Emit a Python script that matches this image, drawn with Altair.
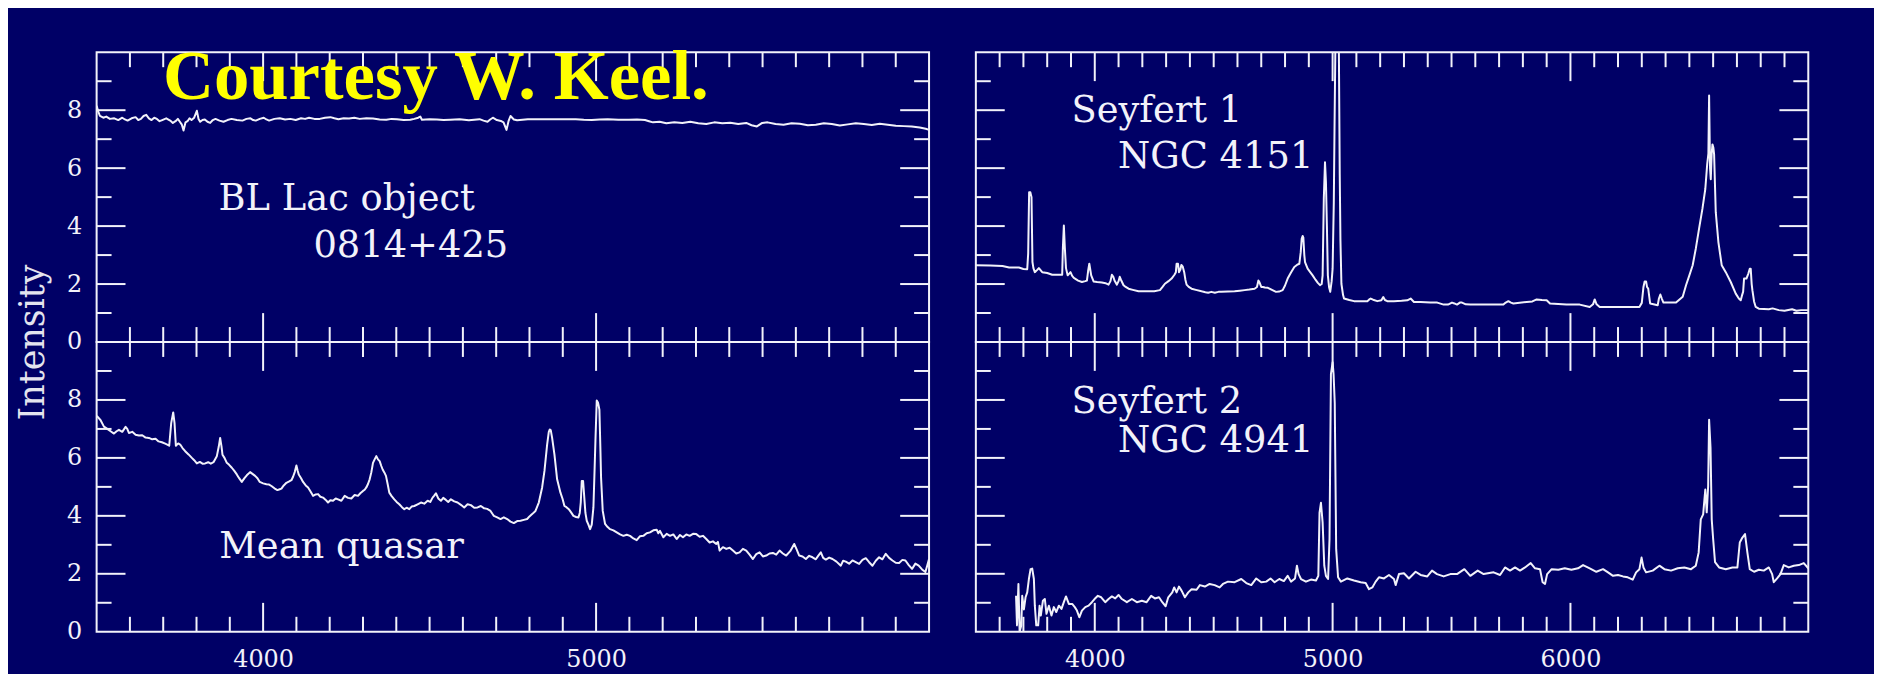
import altair as alt
import pandas as pd

BG = "#000066"
FG = "#f2f2fa"
TITLE_FG = "#e4e4ee"
YELLOW = "#ffff00"
FONT = "DejaVu Serif"

# ---------------- spectra: (wavelength [A], intensity) ----------------
BL_LAC = [
    (3500, 8.15), (3505, 7.95), (3510, 7.80), (3520, 7.74), (3529, 7.78), (3540, 7.70), (3553, 7.72),
    (3565, 7.66), (3577, 7.74), (3585, 7.68), (3593, 7.64), (3605, 7.72), (3617, 7.76), (3625, 7.66),
    (3633, 7.70), (3641, 7.80), (3649, 7.84), (3657, 7.72), (3665, 7.66), (3673, 7.74), (3681, 7.70),
    (3689, 7.62), (3697, 7.66), (3709, 7.72), (3721, 7.64), (3729, 7.56), (3737, 7.62), (3744, 7.70),
    (3750, 7.60), (3756, 7.50), (3761, 7.30), (3767, 7.58), (3773, 7.62), (3779, 7.72), (3785, 7.66),
    (3793, 7.74), (3801, 7.98), (3806, 7.70), (3811, 7.60), (3818, 7.66), (3825, 7.68), (3833, 7.60),
    (3841, 7.56), (3849, 7.66), (3857, 7.70), (3869, 7.64), (3881, 7.60), (3893, 7.66), (3905, 7.70),
    (3921, 7.66), (3938, 7.64), (3950, 7.70), (3962, 7.72), (3970, 7.66), (3978, 7.64), (3990, 7.70),
    (4002, 7.74), (4010, 7.68), (4018, 7.64), (4034, 7.70), (4050, 7.72), (4066, 7.68), (4082, 7.70),
    (4098, 7.66), (4114, 7.72), (4126, 7.70), (4138, 7.74), (4154, 7.70), (4170, 7.70), (4186, 7.74),
    (4202, 7.76), (4214, 7.72), (4226, 7.69), (4242, 7.72), (4258, 7.71), (4274, 7.74), (4290, 7.70),
    (4310, 7.72), (4330, 7.71), (4350, 7.68), (4370, 7.67), (4386, 7.70), (4402, 7.69), (4422, 7.66),
    (4442, 7.67), (4454, 7.70), (4466, 7.74), (4472, 7.78), (4477, 7.67), (4500, 7.69), (4522, 7.68),
    (4542, 7.66), (4562, 7.67), (4590, 7.69), (4618, 7.65), (4634, 7.67), (4650, 7.69), (4662, 7.64),
    (4674, 7.60), (4682, 7.68), (4690, 7.74), (4702, 7.66), (4714, 7.63), (4722, 7.58), (4731, 7.32),
    (4737, 7.62), (4743, 7.80), (4753, 7.68), (4763, 7.65), (4779, 7.67), (4795, 7.69), (4827, 7.69),
    (4859, 7.69), (4899, 7.69), (4939, 7.69), (4963, 7.67), (4987, 7.66), (5011, 7.68), (5035, 7.69),
    (5067, 7.67), (5099, 7.67), (5123, 7.68), (5147, 7.66), (5159, 7.62), (5171, 7.58), (5191, 7.60),
    (5211, 7.55), (5235, 7.58), (5259, 7.56), (5283, 7.60), (5307, 7.55), (5331, 7.52), (5355, 7.58),
    (5379, 7.55), (5403, 7.57), (5427, 7.52), (5451, 7.56), (5467, 7.48), (5483, 7.44), (5499, 7.56),
    (5515, 7.58), (5539, 7.52), (5563, 7.50), (5587, 7.55), (5612, 7.53), (5636, 7.48), (5660, 7.50),
    (5684, 7.55), (5708, 7.52), (5732, 7.47), (5756, 7.51), (5780, 7.55), (5804, 7.52), (5828, 7.49),
    (5852, 7.53), (5876, 7.50), (5900, 7.46), (5924, 7.45), (5948, 7.44), (5972, 7.40), (5990, 7.36),
    (6000, 7.32),
]

QUASAR = [
    (3500, 7.45), (3502, 7.43), (3512, 7.30), (3522, 7.08), (3532, 7.00), (3542, 6.92), (3552, 6.84),
    (3560, 6.92), (3567, 6.97), (3577, 6.90), (3587, 7.07), (3592, 7.00), (3597, 6.86), (3607, 6.90),
    (3617, 6.80), (3627, 6.77), (3637, 6.78), (3647, 6.70), (3657, 6.69), (3667, 6.64), (3677, 6.66),
    (3686, 6.57), (3696, 6.54), (3706, 6.49), (3712, 6.46), (3718, 6.42), (3724, 7.20), (3730, 7.57),
    (3734, 7.20), (3738, 6.42), (3745, 6.50), (3751, 6.46), (3758, 6.34), (3766, 6.23), (3776, 6.12),
    (3786, 6.00), (3793, 5.92), (3801, 5.81), (3810, 5.86), (3818, 5.80), (3826, 5.81), (3835, 5.85),
    (3843, 5.80), (3851, 5.85), (3861, 6.06), (3867, 6.40), (3871, 6.69), (3875, 6.40), (3878, 6.11),
    (3884, 6.00), (3891, 5.83), (3898, 5.76), (3906, 5.66), (3913, 5.56), (3921, 5.43), (3928, 5.30),
    (3936, 5.17), (3944, 5.30), (3951, 5.40), (3961, 5.51), (3968, 5.45), (3976, 5.38), (3983, 5.30),
    (3990, 5.17), (4000, 5.12), (4010, 5.09), (4018, 5.08), (4025, 5.03), (4034, 4.95), (4043, 4.89),
    (4050, 4.92), (4055, 4.94), (4062, 5.05), (4070, 5.14), (4077, 5.18), (4085, 5.23), (4090, 5.35),
    (4095, 5.51), (4100, 5.74), (4104, 5.55), (4107, 5.43), (4114, 5.30), (4120, 5.17), (4128, 5.05),
    (4135, 4.98), (4142, 4.85), (4150, 4.69), (4158, 4.74), (4165, 4.75), (4172, 4.66), (4180, 4.63),
    (4188, 4.55), (4195, 4.46), (4202, 4.54), (4210, 4.52), (4218, 4.60), (4225, 4.57), (4235, 4.52),
    (4245, 4.69), (4255, 4.62), (4265, 4.60), (4275, 4.72), (4285, 4.69), (4292, 4.78), (4300, 4.86),
    (4305, 4.90), (4310, 4.98), (4315, 5.10), (4320, 5.26), (4325, 5.50), (4330, 5.83), (4335, 5.95),
    (4340, 6.06), (4345, 5.95), (4350, 5.89), (4355, 5.72), (4359, 5.60), (4364, 5.50), (4369, 5.38),
    (4374, 5.10), (4379, 4.80), (4386, 4.68), (4394, 4.57), (4401, 4.48), (4409, 4.40), (4417, 4.30),
    (4424, 4.23), (4431, 4.28), (4439, 4.23), (4446, 4.32), (4454, 4.34), (4464, 4.40), (4474, 4.46),
    (4484, 4.42), (4494, 4.52), (4502, 4.48), (4509, 4.63), (4514, 4.70), (4519, 4.78), (4526, 4.60),
    (4534, 4.52), (4541, 4.62), (4549, 4.55), (4556, 4.48), (4564, 4.57), (4574, 4.50), (4584, 4.46),
    (4594, 4.38), (4604, 4.29), (4614, 4.40), (4624, 4.37), (4634, 4.28), (4644, 4.29), (4654, 4.34),
    (4664, 4.26), (4673, 4.24), (4683, 4.17), (4688, 4.08), (4693, 4.00), (4703, 3.95), (4713, 3.89),
    (4723, 3.95), (4733, 3.89), (4743, 3.80), (4753, 3.75), (4763, 3.82), (4773, 3.83), (4783, 3.86),
    (4793, 3.89), (4800, 3.98), (4808, 4.06), (4818, 4.17), (4828, 4.46), (4838, 4.98), (4845, 5.55),
    (4853, 6.46), (4858, 6.90), (4861, 6.98), (4864, 6.95), (4868, 6.69), (4875, 6.11), (4883, 5.26),
    (4893, 4.80), (4899, 4.60), (4905, 4.34), (4911, 4.30), (4918, 4.23), (4925, 4.12), (4932, 4.00),
    (4940, 3.96), (4947, 3.94), (4951, 4.10), (4954, 4.46), (4957, 5.20), (4961, 5.20), (4965, 4.57),
    (4968, 4.10), (4972, 3.83), (4977, 3.70), (4982, 3.54), (4987, 3.70), (4992, 4.29), (4995, 5.40),
    (4998, 6.57), (5002, 7.98), (5006, 7.90), (5010, 7.66), (5013, 6.30), (5015, 5.31), (5020, 4.17),
    (5027, 3.72), (5034, 3.62), (5042, 3.54), (5052, 3.50), (5062, 3.43), (5072, 3.36), (5082, 3.31),
    (5092, 3.35), (5102, 3.31), (5112, 3.22), (5122, 3.16), (5132, 3.30), (5142, 3.31), (5152, 3.40),
    (5162, 3.43), (5172, 3.50), (5182, 3.52), (5187, 3.40), (5192, 3.48), (5202, 3.26), (5212, 3.38),
    (5222, 3.31), (5232, 3.36), (5242, 3.20), (5252, 3.34), (5261, 3.26), (5271, 3.36), (5281, 3.31),
    (5291, 3.38), (5301, 3.37), (5311, 3.28), (5321, 3.31), (5331, 3.20), (5341, 3.08), (5351, 3.12),
    (5361, 3.03), (5366, 3.10), (5371, 2.80), (5381, 2.92), (5391, 2.86), (5401, 2.90), (5411, 2.80),
    (5421, 2.70), (5431, 2.74), (5441, 2.86), (5451, 2.80), (5461, 2.66), (5471, 2.51), (5481, 2.68),
    (5491, 2.74), (5501, 2.60), (5511, 2.63), (5521, 2.70), (5531, 2.72), (5541, 2.66), (5551, 2.80),
    (5561, 2.70), (5571, 2.63), (5583, 2.78), (5595, 3.03), (5602, 2.85), (5610, 2.63), (5620, 2.60),
    (5630, 2.51), (5640, 2.62), (5650, 2.57), (5660, 2.50), (5667, 2.62), (5675, 2.74), (5682, 2.55),
    (5690, 2.49), (5700, 2.56), (5710, 2.51), (5722, 2.42), (5735, 2.28), (5742, 2.45), (5750, 2.42),
    (5760, 2.35), (5770, 2.46), (5780, 2.40), (5790, 2.34), (5800, 2.48), (5810, 2.54), (5820, 2.40),
    (5830, 2.28), (5840, 2.45), (5850, 2.57), (5860, 2.50), (5870, 2.69), (5880, 2.55), (5890, 2.46),
    (5900, 2.38), (5910, 2.37), (5920, 2.48), (5929, 2.46), (5939, 2.30), (5949, 2.17), (5959, 2.35),
    (5969, 2.28), (5979, 2.15), (5989, 2.06), (5995, 2.30), (6000, 2.51),
]

SEYFERT1 = [
    (3500, 2.65), (3560, 2.64), (3612, 2.62), (3640, 2.57), (3681, 2.57), (3700, 2.52), (3716, 2.51),
    (3720, 3.05), (3724, 5.17), (3729, 5.17), (3734, 5.00), (3738, 2.76), (3742, 2.55), (3748, 2.41),
    (3757, 2.48), (3765, 2.55), (3772, 2.48), (3779, 2.41), (3800, 2.38), (3821, 2.32), (3845, 2.32),
    (3863, 2.32), (3866, 3.27), (3870, 4.02), (3874, 3.27), (3879, 2.55), (3886, 2.30), (3898, 2.41),
    (3905, 2.28), (3912, 2.21), (3930, 2.12), (3946, 2.07), (3960, 2.10), (3967, 2.12), (3972, 2.45),
    (3977, 2.70), (3982, 2.45), (3985, 2.30), (3995, 2.09), (4010, 2.07), (4030, 2.05), (4045, 2.03),
    (4058, 1.98), (4066, 2.10), (4072, 2.32), (4078, 2.25), (4083, 2.12), (4093, 1.98), (4100, 2.10),
    (4105, 2.25), (4110, 2.15), (4121, 1.96), (4130, 1.90), (4142, 1.84), (4160, 1.80), (4184, 1.75),
    (4205, 1.75), (4225, 1.75), (4250, 1.75), (4274, 1.79), (4285, 1.90), (4295, 2.01), (4310, 2.10),
    (4323, 2.19), (4335, 2.32), (4341, 2.41), (4344, 2.70), (4350, 2.70), (4354, 2.41), (4360, 2.50),
    (4364, 2.66), (4370, 2.60), (4376, 2.41), (4381, 2.15), (4386, 1.98), (4395, 1.90), (4407, 1.84),
    (4425, 1.80), (4449, 1.75), (4465, 1.72), (4477, 1.70), (4490, 1.73), (4505, 1.70), (4520, 1.73),
    (4532, 1.73), (4560, 1.74), (4588, 1.75), (4610, 1.77), (4630, 1.79), (4650, 1.81), (4672, 1.84),
    (4682, 1.90), (4688, 2.12), (4693, 2.05), (4700, 1.90), (4707, 1.90), (4715, 1.88), (4728, 1.87),
    (4745, 1.80), (4762, 1.73), (4775, 1.74), (4790, 1.79), (4800, 1.95), (4811, 2.19), (4825, 2.40),
    (4839, 2.59), (4850, 2.66), (4860, 2.70), (4866, 3.10), (4870, 3.56), (4874, 3.66), (4877, 3.60),
    (4881, 3.00), (4884, 2.76), (4895, 2.53), (4905, 2.42), (4916, 2.30), (4928, 2.15), (4937, 2.05),
    (4947, 1.96), (4954, 2.00), (4958, 2.30), (4963, 4.94), (4968, 6.20), (4972, 5.51), (4976, 4.00),
    (4980, 2.30), (4985, 1.90), (4990, 1.73), (4996, 2.10), (5000, 2.53), (5005, 4.80), (5008, 7.34),
    (5012, 10.5), (5016, 12.0), (5022, 12.0), (5026, 10.5), (5030, 5.77), (5033, 3.50), (5037, 2.01),
    (5044, 1.62), (5048, 1.50), (5070, 1.45), (5090, 1.41), (5120, 1.41), (5146, 1.41), (5153, 1.46),
    (5160, 1.50), (5170, 1.46), (5188, 1.41), (5205, 1.44), (5213, 1.55), (5220, 1.45), (5230, 1.41),
    (5258, 1.41), (5290, 1.42), (5314, 1.44), (5328, 1.50), (5342, 1.38), (5370, 1.38), (5411, 1.36),
    (5440, 1.36), (5467, 1.29), (5485, 1.29), (5502, 1.36), (5512, 1.33), (5523, 1.29), (5535, 1.36),
    (5544, 1.36), (5560, 1.30), (5579, 1.29), (5649, 1.29), (5718, 1.29), (5728, 1.36), (5739, 1.41),
    (5750, 1.36), (5760, 1.33), (5816, 1.38), (5840, 1.40), (5858, 1.47), (5880, 1.45), (5900, 1.44),
    (5914, 1.33), (5983, 1.29), (6039, 1.29), (6081, 1.21), (6095, 1.30), (6102, 1.47), (6110, 1.30),
    (6123, 1.21), (6207, 1.21), (6290, 1.21), (6300, 1.35), (6307, 1.90), (6312, 2.09), (6318, 2.09),
    (6322, 1.90), (6327, 1.84), (6335, 1.33), (6367, 1.27), (6372, 1.50), (6378, 1.64), (6384, 1.50),
    (6391, 1.36), (6444, 1.36), (6472, 1.56), (6486, 1.96), (6500, 2.30), (6514, 2.65), (6527, 3.22),
    (6541, 3.92), (6555, 4.60), (6567, 5.28), (6575, 6.14), (6580, 6.50), (6583, 8.51), (6587, 6.00),
    (6590, 5.62), (6594, 6.50), (6597, 6.82), (6601, 6.70), (6604, 6.48), (6611, 4.48), (6622, 3.45),
    (6636, 2.65), (6653, 2.41), (6674, 2.07), (6695, 1.67), (6708, 1.50), (6716, 1.44), (6721, 1.60),
    (6726, 1.73), (6730, 2.19), (6740, 2.19), (6748, 2.36), (6754, 2.53), (6758, 2.53), (6762, 2.00),
    (6765, 1.79), (6772, 1.40), (6779, 1.21), (6792, 1.15), (6834, 1.13), (6850, 1.16), (6876, 1.10),
    (6900, 1.08), (6932, 1.13), (6950, 1.08), (6970, 1.10), (7000, 1.10),
]

SEYFERT2 = [
    (3669, 1.24), (3673, 0.22), (3679, 1.65), (3684, 0.00), (3691, 0.22), (3695, 1.24), (3702, 0.77),
    (3709, 1.19), (3716, 1.36), (3723, 1.82), (3730, 2.16), (3737, 2.18), (3744, 1.82), (3748, 0.90),
    (3754, 0.22), (3762, 0.22), (3768, 0.90), (3773, 0.56), (3782, 1.07), (3790, 1.13), (3797, 0.62),
    (3807, 0.90), (3818, 0.56), (3828, 0.85), (3838, 0.68), (3849, 0.90), (3860, 0.79), (3870, 1.02),
    (3879, 1.22), (3891, 0.96), (3905, 0.96), (3916, 0.85), (3925, 0.73), (3935, 0.50), (3946, 0.73),
    (3960, 0.85), (3974, 0.90), (3988, 1.02), (3999, 1.13), (4013, 1.24), (4027, 1.19), (4044, 1.02),
    (4058, 1.13), (4072, 1.22), (4086, 1.15), (4100, 1.27), (4114, 1.13), (4135, 1.02), (4156, 1.13),
    (4177, 1.02), (4198, 1.07), (4218, 1.02), (4237, 1.24), (4253, 1.15), (4270, 1.19), (4284, 1.02),
    (4298, 0.88), (4309, 1.19), (4326, 1.36), (4334, 1.53), (4344, 1.36), (4354, 1.56), (4365, 1.42),
    (4379, 1.19), (4393, 1.36), (4407, 1.47), (4428, 1.45), (4442, 1.61), (4463, 1.56), (4483, 1.65),
    (4504, 1.61), (4525, 1.53), (4539, 1.65), (4560, 1.73), (4588, 1.71), (4616, 1.82), (4637, 1.68),
    (4658, 1.61), (4679, 1.84), (4700, 1.71), (4721, 1.73), (4739, 1.84), (4756, 1.71), (4776, 1.82),
    (4795, 1.75), (4811, 1.93), (4825, 1.73), (4842, 1.84), (4850, 2.28), (4857, 1.99), (4867, 1.82),
    (4888, 1.73), (4909, 1.80), (4930, 1.77), (4940, 1.93), (4945, 4.11), (4951, 4.45), (4958, 3.77),
    (4965, 2.28), (4972, 1.93), (4981, 1.82), (4987, 3.20), (4993, 8.90), (5000, 9.30), (5004, 8.90),
    (5009, 7.89), (5015, 2.85), (5023, 1.88), (5035, 1.73), (5062, 1.84), (5090, 1.77), (5118, 1.71),
    (5139, 1.68), (5153, 1.47), (5167, 1.53), (5181, 1.73), (5195, 1.88), (5216, 1.84), (5237, 1.96),
    (5258, 1.82), (5265, 1.61), (5279, 1.99), (5300, 2.02), (5321, 1.84), (5349, 2.07), (5370, 1.96),
    (5398, 1.91), (5418, 2.11), (5439, 1.99), (5467, 1.91), (5495, 1.99), (5523, 1.99), (5554, 2.16),
    (5579, 1.93), (5610, 2.11), (5635, 1.99), (5677, 2.05), (5704, 1.96), (5725, 2.22), (5746, 2.11),
    (5767, 2.22), (5788, 2.11), (5809, 2.22), (5833, 2.37), (5851, 2.19), (5872, 2.16), (5883, 1.71),
    (5893, 1.65), (5902, 1.99), (5921, 2.16), (5949, 2.14), (5976, 2.19), (6004, 2.14), (6032, 2.19),
    (6053, 2.30), (6081, 2.19), (6109, 2.07), (6137, 2.16), (6158, 2.05), (6179, 1.93), (6200, 1.96),
    (6221, 1.91), (6241, 1.88), (6262, 1.80), (6276, 2.05), (6290, 2.16), (6299, 2.56), (6307, 2.22),
    (6318, 2.05), (6346, 2.11), (6374, 2.28), (6395, 2.16), (6423, 2.11), (6451, 2.19), (6479, 2.22),
    (6507, 2.16), (6527, 2.28), (6539, 2.73), (6548, 3.88), (6558, 4.05), (6567, 4.91), (6573, 4.12),
    (6579, 5.02), (6583, 7.32), (6589, 6.35), (6594, 3.88), (6600, 3.20), (6608, 2.40), (6625, 2.22),
    (6653, 2.16), (6681, 2.22), (6702, 2.22), (6712, 3.08), (6723, 3.25), (6734, 3.37), (6744, 2.73),
    (6754, 2.16), (6772, 2.07), (6792, 2.14), (6813, 2.11), (6834, 2.22), (6848, 1.99), (6855, 1.71),
    (6869, 1.84), (6883, 1.99), (6897, 2.30), (6918, 2.22), (6939, 2.28), (6960, 2.30), (6981, 2.37),
    (7000, 2.19),
]

# ---------------- axes ----------------
LEFT_X_DOMAIN = [3500, 6000]
RIGHT_X_DOMAIN = [3500, 7000]
Y_DOMAIN = [0, 10]
LEFT_X_MAJOR = [4000, 5000]
RIGHT_X_MAJOR = [4000, 5000, 6000]
LEFT_X_MINOR = [3600, 3700, 3800, 3900, 4100, 4200, 4300, 4400, 4500, 4600, 4700, 4800, 4900,
                5100, 5200, 5300, 5400, 5500, 5600, 5700, 5800, 5900]
RIGHT_X_MINOR = [3600, 3700, 3800, 3900, 4100, 4200, 4300, 4400, 4500, 4600, 4700, 4800, 4900,
                 5100, 5200, 5300, 5400, 5500, 5600, 5700, 5800, 5900,
                 6100, 6200, 6300, 6400, 6500, 6600, 6700, 6800, 6900]
Y_MAJOR = [2, 4, 6, 8]
Y_MINOR = [1, 3, 5, 7, 9]
Y_LABELS = [0, 2, 4, 6, 8]
Y_TITLE = "Intensity"

# ---------------- annotations: (text, wavelength, intensity at baseline) ----------------
ANN_BL = [("BL Lac object", 3866, 4.54), ("0814+425", 4151, 2.93)]
ANN_QSO = [("Mean quasar", 3868, 2.54)]
ANN_S1 = [("Seyfert 1", 3902, 7.60), ("NGC 4151", 4098, 5.99)]
ANN_S2 = [("Seyfert 2", 3902, 7.56), ("NGC 4941", 4098, 6.19)]
CREDIT = [("Courtesy W. Keel.", 3699, 8.37)]

W, H = 836, 291
MAJOR_LEN, MINOR_LEN = 29, 15


def panel(spec, xdom, xmaj, xmin, ann, show_x, show_y, with_title=False, credit=None):
    xs = alt.Scale(domain=xdom, nice=False, zero=False)
    ys = alt.Scale(domain=Y_DOMAIN, nice=False, zero=False)
    if show_x:
        xax = alt.Axis(values=xmaj, format="d", ticks=False, tickSize=0, domain=False, grid=False,
                       labelFont=FONT, labelFontSize=24, labelColor=FG, labelPadding=35,
                       labelBaseline="alphabetic", labelFlush=False, title=None)
    else:
        xax = None
    if show_y:
        kw = dict(values=Y_LABELS, format="d", ticks=False, tickSize=0, domain=False, grid=False,
                  labelFont=FONT, labelFontSize=24, labelColor=FG, labelPadding=15,
                  labelFlush=False)
        if with_title:
            kw.update(title=Y_TITLE, titleFont=FONT, titleFontSize=35, titleFontWeight="normal",
                      titleColor=TITLE_FG, titleAngle=270, titleAlign="center",
                      titleBaseline="alphabetic", titleX=-53, titleY=H)
        else:
            kw.update(title=None)
        yax = alt.Axis(**kw)
    else:
        yax = None

    def X(f):
        return alt.X(f, type="quantitative", scale=xs, axis=xax)

    def Y(f):
        return alt.Y(f, type="quantitative", scale=ys, axis=yax)

    df = pd.DataFrame(spec, columns=["wl", "flux"])
    layers = [
        alt.Chart(df).mark_line(color=FG, strokeWidth=2, clip=True, strokeJoin="round")
        .encode(x=X("wl"), y=Y("flux"))
    ]
    for vals, L in ((xmin, MINOR_LEN), (xmaj, MAJOR_LEN)):
        d = pd.DataFrame({"t": vals})
        layers.append(alt.Chart(d).mark_rule(color=FG, strokeWidth=2)
                      .encode(x=X("t"), y=alt.value(0), y2=alt.value(L)))
        layers.append(alt.Chart(d).mark_rule(color=FG, strokeWidth=2)
                      .encode(x=X("t"), y=alt.value(H), y2=alt.value(H - L)))
    for vals, L in ((Y_MINOR, MINOR_LEN), (Y_MAJOR, MAJOR_LEN)):
        d = pd.DataFrame({"t": vals})
        layers.append(alt.Chart(d).mark_rule(color=FG, strokeWidth=2)
                      .encode(y=Y("t"), x=alt.value(0), x2=alt.value(L)))
        layers.append(alt.Chart(d).mark_rule(color=FG, strokeWidth=2)
                      .encode(y=Y("t"), x=alt.value(W), x2=alt.value(W - L)))
    adf = pd.DataFrame(ann, columns=["label", "wl", "flux"])
    layers.append(alt.Chart(adf).mark_text(align="left", baseline="alphabetic", font=FONT,
                                           fontSize=37, color=FG)
                  .encode(x=X("wl"), y=Y("flux"), text="label:N"))
    if credit:
        cdf = pd.DataFrame(credit, columns=["label", "wl", "flux"])
        layers.append(alt.Chart(cdf).mark_text(align="left", baseline="alphabetic",
                                               font="Liberation Serif", fontWeight="bold",
                                               fontSize=71, color=YELLOW)
                      .encode(x=X("wl"), y=Y("flux"), text="label:N"))
    return alt.layer(*layers).properties(width=W, height=H)


tl = panel(BL_LAC, LEFT_X_DOMAIN, LEFT_X_MAJOR, LEFT_X_MINOR, ANN_BL, False, True,
           with_title=True, credit=CREDIT)
tr = panel(SEYFERT1, RIGHT_X_DOMAIN, RIGHT_X_MAJOR, RIGHT_X_MINOR, ANN_S1, False, False)
bl = panel(QUASAR, LEFT_X_DOMAIN, LEFT_X_MAJOR, LEFT_X_MINOR, ANN_QSO, True, True)
br = panel(SEYFERT2, RIGHT_X_DOMAIN, RIGHT_X_MAJOR, RIGHT_X_MINOR, ANN_S2, True, False)

chart = alt.concat(
    tl, tr, bl, br, columns=2,
    spacing=alt.RowColnumber(row=0, column=47),
    bounds="flush",
).properties(
    background=BG,
    padding={"left": 89, "top": 43, "right": 1785, "bottom": 623},
    autosize=alt.AutoSizeParams(type="none"),
).configure_view(stroke=FG, strokeWidth=2)

chart.save("out.html", embed_options={"renderer": "svg", "actions": False})
